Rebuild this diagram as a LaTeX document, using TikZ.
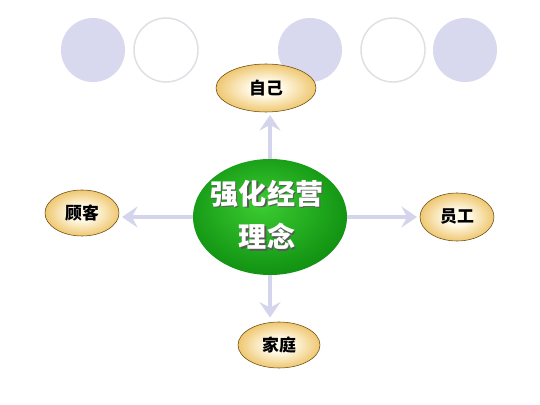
\documentclass[tikz,border=0pt]{standalone}
\usepackage{fontspec}
\newfontfamily\cjk{Noto Sans CJK SC}
\usetikzlibrary{positioning,arrows.meta,shapes.geometric}
\definecolor{dotlav}{RGB}{216,216,238}
\definecolor{ringgray}{RGB}{222,222,228}
\definecolor{linklav}{RGB}{212,212,236}
\definecolor{goldin}{RGB}{255,250,232}
\definecolor{goldmid}{RGB}{236,190,92}
\definecolor{goldout}{RGB}{210,150,32}
\definecolor{goldedge}{RGB}{105,75,18}
\definecolor{grnhi}{RGB}{60,205,50}
\definecolor{grnmid}{RGB}{20,150,20}
\definecolor{grnlo}{RGB}{0,88,0}
\pgfdeclareradialshading{goldball}{\pgfpointorigin}{color(0bp)=(goldin); color(8bp)=(goldin); color(28bp)=(goldmid); color(46bp)=(goldout); color(60bp)=(goldout)}
\pgfdeclareradialshading{greenball}{\pgfpoint{-3bp}{6bp}}{color(0bp)=(grnhi); color(26bp)=(grnmid); color(58bp)=(grnlo)}
\tikzset{
  dot/.style={circle,minimum size=1.6cm,inner sep=0pt,fill=dotlav},
  ring/.style={circle,minimum size=1.6cm,inner sep=0pt,draw=ringgray,line width=1pt},
  goal/.style={ellipse,minimum width=3.85cm,minimum height=2.9cm,inner sep=0pt,shading=greenball},
  side/.style={ellipse,inner sep=0pt,shading=goldball,draw=goldedge,line width=0.4pt,
    font=\cjk\bfseries\fontsize{12}{12}\selectfont},
  link/.style={linklav,line width=3.5pt,-{Stealth[length=11pt,width=15pt,inset=4pt]},shorten >=2pt}
}
\begin{document}
\begin{tikzpicture}
\fill[white] (0,0) rectangle (13.5,10.125);
\useasboundingbox (0,0) rectangle (13.5,10.125);

% Circles along the top
\node[dot]  (d1) at (2.325,8.875) {};
\node[ring] (r1) at (4.15,8.875) {};
\node[dot]  (d2) at (7.75,8.875) {};
\node[ring] (r2) at (9.825,8.875) {};
\node[dot]  (d3) at (11.625,8.875) {};

% Centre
\node[goal] (cen) at (6.75,4.7) {};
\node[text=black!65,align=center,font=\cjk\bfseries\fontsize{20}{31}\selectfont]
  (censh) at (6.705,4.72) {强化经营\\理念};
\node[text=white,align=center,font=\cjk\bfseries\fontsize{20}{31}\selectfont]
  (centxt) at (6.675,4.75) {强化经营\\理念};

% Four sides
\node[side,minimum width=2.5cm,minimum height=1.2cm] (self) at (6.65,7.925) {自己};
\node[side,minimum width=1.85cm,minimum height=1.15cm] (cust) at (2.05,4.8) {顾客};
\node[side,minimum width=1.85cm,minimum height=1.2cm] (staff) at (11.425,4.7) {员工};
\node[side,minimum width=2.05cm,minimum height=1.15cm] (home) at (6.975,1.5) {家庭};

% Arrows
\draw[link] (cen.north) -- (cen.north |- self.south);
\draw[link] (cen.west) -- (cen.west -| cust.east);
\draw[link] (cen.east) -- (cen.east -| staff.west);
\draw[link,shorten >=3pt] (cen.south) -- (cen.south |- home.north);
\end{tikzpicture}
\end{document}
